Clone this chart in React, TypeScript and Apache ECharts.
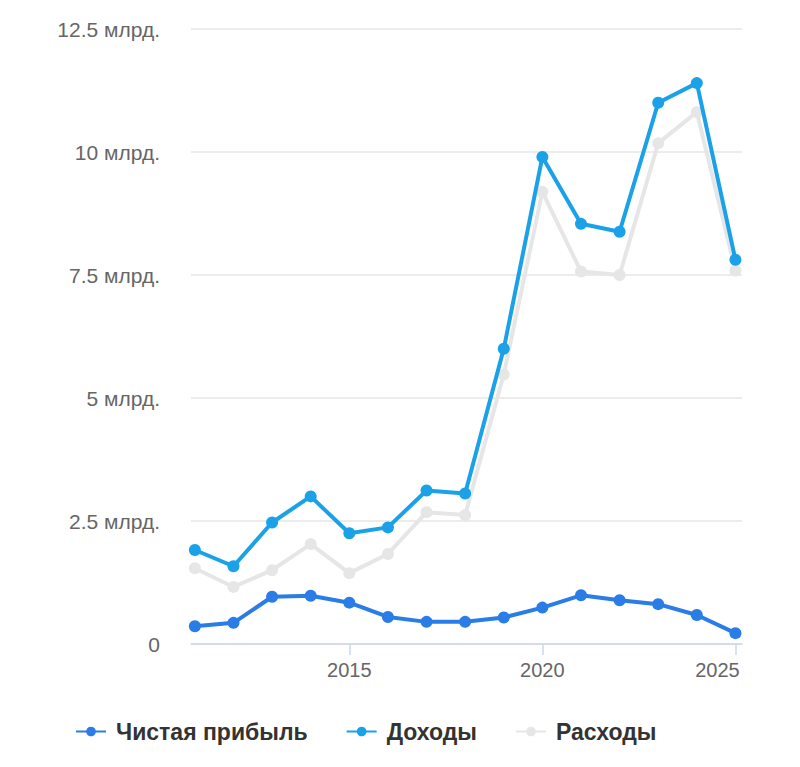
import React, { useEffect, useRef } from "react";
import * as echarts from "echarts";

const years = [2011, 2012, 2013, 2014, 2015, 2016, 2017, 2018, 2019, 2020, 2021, 2022, 2023, 2024, 2025];
const netProfit = [0.36, 0.43, 0.96, 0.98, 0.84, 0.55, 0.45, 0.45, 0.54, 0.74, 0.99, 0.89, 0.81, 0.59, 0.22];
const revenue = [1.91, 1.58, 2.47, 3.0, 2.25, 2.37, 3.12, 3.06, 6.0, 9.9, 8.54, 8.38, 11.0, 11.4, 7.81];
const expenses = [1.54, 1.16, 1.5, 2.03, 1.44, 1.83, 2.68, 2.62, 5.48, 9.19, 7.57, 7.5, 10.18, 10.81, 7.59];
const xTicks = [2015, 2020, 2025];
const seriesNames = ["Чистая прибыль", "Доходы", "Расходы"];
const colors = ["#2a7ce6", "#1ba1e8", "#e6e6e6"];

const toPairs = (vals: number[]) => years.map((y, i) => [y, vals[i]]);

export default function App() {
  const ref = useRef<HTMLDivElement>(null);
  useEffect(() => {
    if (!ref.current) return;
    const chart = echarts.init(ref.current, undefined, { renderer: "svg" });
    const font = "'Liberation Sans', Arial, sans-serif";
    const mk = (name: string, data: number[], color: string, z: number) => ({
      name,
      type: "line",
      data: toPairs(data),
      symbol: "circle",
      symbolSize: 12,
      z,
      lineStyle: { color, width: 4 },
      itemStyle: { color },
    });
    chart.setOption({
      animation: false,
      color: colors,
      textStyle: { fontFamily: font },
      grid: { left: 183, right: 50, top: 21, bottom: 115 },
      legend: {
        left: 67,
        top: 712,
        padding: 0,
        itemWidth: 30,
        itemHeight: 12,
        itemGap: 38,
        textStyle: {
          fontSize: 23,
          fontWeight: "bold",
          color: "#333",
          fontFamily: font,
          padding: [0, 0, 0, 5],
        },
        data: seriesNames,
      },
      xAxis: {
        type: "value",
        min: 2010.9,
        max: 2025.17,
        axisLine: { lineStyle: { color: "#ccd6eb", width: 1.5 } },
        axisTick: { show: true, customValues: xTicks, length: 11, lineStyle: { color: "#ccd6eb", width: 1.5 } },
        axisLabel: {
          customValues: xTicks,
          fontSize: 20,
          color: "#666",
          margin: 16,
          formatter: (v: number) => (v === 2025 ? `{r|${v}}` : String(v)),
          rich: {
            r: { fontSize: 20, color: "#666", fontFamily: font, padding: [0, 36, 0, 0] },
          },
        },
        splitLine: { show: false },
      },
      yAxis: {
        type: "value",
        min: 0,
        max: 12.5,
        interval: 2.5,
        axisLine: { show: false },
        axisTick: { show: false },
        axisLabel: {
          fontSize: 21,
          color: "#666",
          margin: 31,
          formatter: (v: number) => (v === 0 ? "0" : `${v} млрд.`),
        },
        splitLine: { lineStyle: { color: "#e6e6e6", width: 1.5 } },
      },
      series: [
        mk(seriesNames[0], netProfit, colors[0], 3),
        mk(seriesNames[1], revenue, colors[1], 2),
        mk(seriesNames[2], expenses, colors[2], 1),
      ],
    });
    return () => chart.dispose();
  }, []);
  return <div ref={ref} style={{ width: 784, height: 751 }} />;
}
